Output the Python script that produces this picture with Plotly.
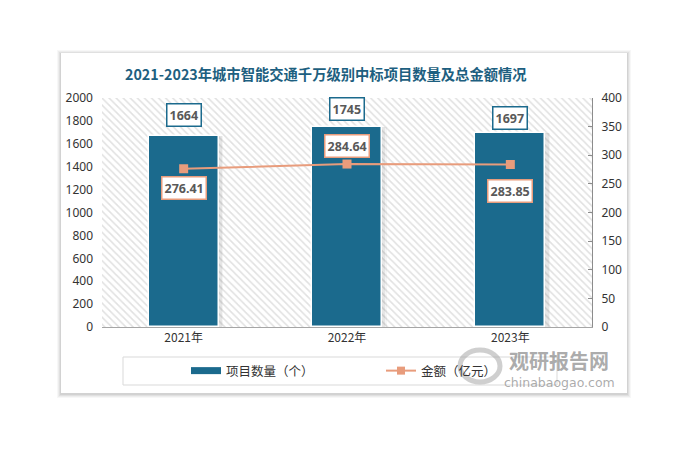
import plotly.graph_objects as go

years = ["2021年", "2022年", "2023年"]
counts = [1664, 1745, 1697]
amounts = [276.41, 284.64, 283.85]
count_label = "项目数量（个）"
amount_label = "金额（亿元）"
title_text = "2021-2023年城市智能交通千万级别中标项目数量及总金额情况"

W, H = 682, 455
L, R, T, B = 102, 592, 98, 327


def px(x):
    return (x - L) / (R - L)


def py(y):
    return (B - y) / (B - T)


CJK = "Noto Sans CJK SC"
NUM = "Noto Sans, Noto Sans CJK SC"
BAR_C = "#1b6a8d"
LINE_C = "#e89c7c"

fig = go.Figure()

# hatched plot-area background (base axes, drawn first)
fig.add_trace(go.Bar(
    x=[0.5], y=[1], width=[1], xaxis="x", yaxis="y",
    marker=dict(color="white", line=dict(width=0),
                pattern=dict(shape="\\", fgcolor="#c4c4c4", bgcolor="white",
                             size=5, solidity=0.32)),
    showlegend=False, hoverinfo="skip"))

# soft bar shadow
for w, off, a in [(0.455, -0.212, 0.04), (0.445, -0.21, 0.06)]:
    fig.add_trace(go.Bar(
        x=years, y=counts, width=w, offset=off, xaxis="x2", yaxis="y2",
        marker=dict(color=f"rgba(0,0,0,{a})", line=dict(width=0)),
        showlegend=False, hoverinfo="skip"))

fig.add_trace(go.Bar(
    x=years, y=counts, name=count_label, width=0.43, offset=-0.215,
    xaxis="x2", yaxis="y2", showlegend=False,
    marker=dict(color=BAR_C, line=dict(color="white", width=1.5))))

fig.add_trace(go.Scatter(
    x=years, y=amounts, name=amount_label, xaxis="x2", yaxis="y3",
    mode="lines+markers", showlegend=False,
    line=dict(color=LINE_C, width=2),
    marker=dict(symbol="square", size=9, color=LINE_C)))

# legend entries
fig.add_trace(go.Scatter(
    x=[None], y=[None], name=count_label, xaxis="x2", yaxis="y2", mode="lines",
    line=dict(color=BAR_C, width=7)))
fig.add_trace(go.Scatter(
    x=[None], y=[None], name=amount_label, xaxis="x2", yaxis="y3", mode="lines+markers",
    line=dict(color=LINE_C, width=2), marker=dict(symbol="square", size=8, color=LINE_C)))

bar_shift = [21, 18, 15]
line_shift = [-19, 18, -26]
ann = []
for yr, c, s in zip(years, counts, bar_shift):
    ann.append(dict(x=yr, y=c, xref="x2", yref="y2", text=f"<b>{c}</b>",
                    showarrow=False, yshift=s, bgcolor="white",
                    bordercolor=BAR_C, borderwidth=1.5, borderpad=2,
                    font=dict(family=NUM, size=12.5, color="#595959")))
for yr, a, s in zip(years, amounts, line_shift):
    ann.append(dict(x=yr, y=a, xref="x2", yref="y3", text=f"<b>{a:.2f}</b>",
                    showarrow=False, yshift=s, bgcolor="white",
                    bordercolor=LINE_C, borderwidth=1.5, borderpad=2,
                    font=dict(family=NUM, size=12.5, color="#595959")))

ann.append(dict(x=px(326), y=py(73), xref="paper", yref="paper", xanchor="center",
                yanchor="middle", text=f"<b>{title_text}</b>", showarrow=False,
                font=dict(family=CJK, size=14.3, color="#1d5f80")))
# watermark
ann.append(dict(x=px(559), y=py(360), xref="paper", yref="paper", xanchor="center",
                yanchor="middle", text="<b>观研报告网</b>", showarrow=False,
                font=dict(family=CJK, size=20, color="rgba(135,135,135,0.7)")))
ann.append(dict(x=px(559), y=py(382), xref="paper", yref="paper", xanchor="center",
                yanchor="middle", text="chinabaogao.com", showarrow=False,
                font=dict(family="DejaVu Sans", size=12.5, color="rgba(135,135,135,0.7)")))

shapes = []
# card shadow
for i, a in enumerate([0.03, 0.04, 0.05, 0.06]):
    g = 4 - i
    shapes.append(dict(type="rect", xref="paper", yref="paper", layer="below",
                       x0=px(61 - g), x1=px(627 + g), y0=py(393 + g + 1), y1=py(53 - g + 1),
                       fillcolor=f"rgba(0,0,0,{a})", line=dict(width=0)))
shapes.append(dict(type="rect", xref="paper", yref="paper", layer="below",
                   x0=px(61), x1=px(627), y0=py(393), y1=py(53),
                   fillcolor="white", line=dict(width=0)))
# legend frame
shapes.append(dict(type="rect", xref="paper", yref="paper", layer="below",
                   x0=px(123), x1=px(557), y0=py(385), y1=py(357),
                   fillcolor="rgba(0,0,0,0)", line=dict(color="#d9d9d9", width=1)))
# watermark logo ring
shapes.append(dict(type="circle", xref="paper", yref="paper", layer="above",
                   x0=px(460), x1=px(500), y0=py(382), y1=py(350),
                   fillcolor="rgba(0,0,0,0)", line=dict(color="rgba(160,160,160,0.5)", width=5)))

fig.update_layout(
    width=W, height=H,
    margin=dict(l=L, r=W - R, t=T, b=H - B),
    paper_bgcolor="white", plot_bgcolor="rgba(0,0,0,0)",
    barmode="overlay", bargap=0,
    showlegend=True,
    legend=dict(orientation="h", x=px(186), xanchor="left", y=py(371), yanchor="middle",
                font=dict(family=CJK, size=12.5, color="#333333"),
                bgcolor="rgba(0,0,0,0)", entrywidth=150, itemwidth=30),
    xaxis=dict(range=[0, 1], visible=False, fixedrange=True),
    yaxis=dict(range=[0, 1], visible=False, fixedrange=True),
    xaxis2=dict(type="category", range=[-0.5, 2.5], overlaying="x", showline=True,
                linecolor="#a6a6a6", linewidth=1, ticks="", showgrid=False,
                tickfont=dict(family=CJK, size=12, color="#333333")),
    yaxis2=dict(range=[0, 2000], dtick=200, overlaying="y", side="left", showgrid=False,
                showline=False, zeroline=False, ticks="", ticklabelstandoff=8,
                tickfont=dict(family=NUM, size=12, color="#333333")),
    yaxis3=dict(range=[0, 400], dtick=50, overlaying="y", side="right", showgrid=False,
                showline=True, linecolor="#8c8c8c", linewidth=1, ticks="inside", ticklen=4,
                tickcolor="#8c8c8c", zeroline=False, ticklabelstandoff=6,
                tickfont=dict(family=NUM, size=12, color="#333333")),
    annotations=ann, shapes=shapes,
)

fig.write_html("out.html", config={"displayModeBar": False},
               post_script="document.body.style.margin='0';document.body.style.overflow='hidden';")
